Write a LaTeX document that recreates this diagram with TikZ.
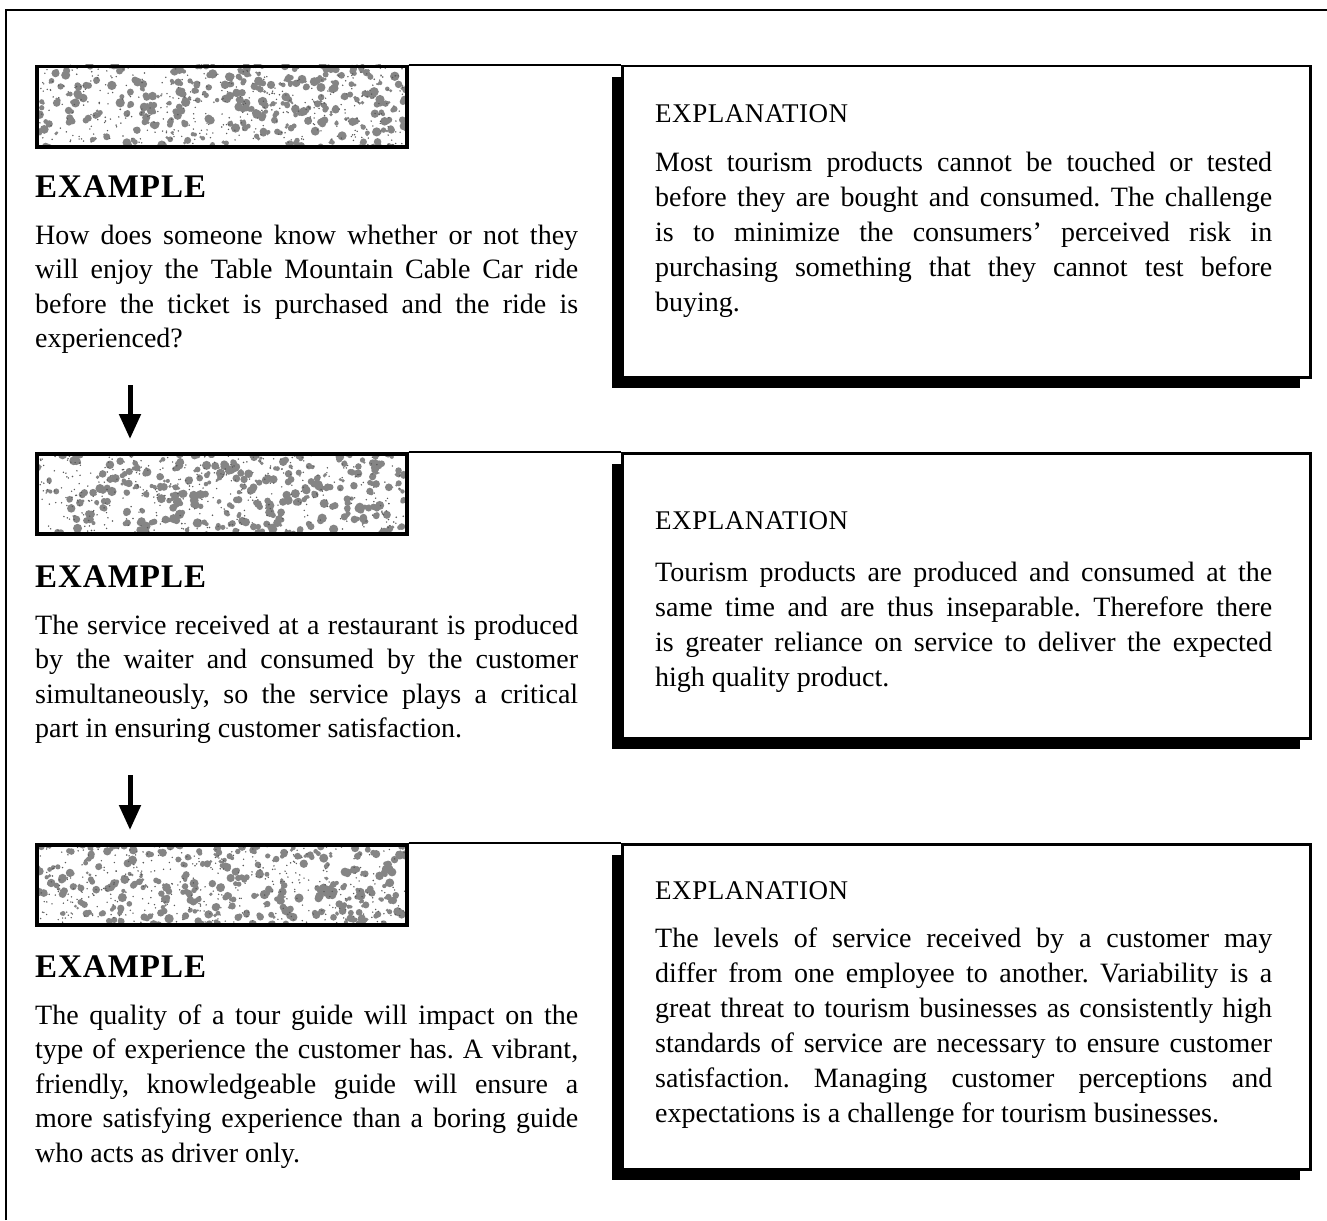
\documentclass[tikz,border=0pt]{standalone}
\usepackage{fontspec}
\setmainfont{Liberation Serif}
\usetikzlibrary{arrows.meta,shadows}
\frenchspacing
\newcommand\jla[1]{\makebox[543pt][s]{#1}}
\newcommand\jlb[1]{\makebox[617pt][s]{#1}}
\tikzset{
  frame/.style={line width=2.5pt},
  texbox/.style={draw, line width=3.5pt, minimum width=370pt, minimum height=80pt, inner sep=0pt, anchor=north west},
  xbox/.style={draw, fill=white, line width=2.5pt, minimum width=688pt, inner sep=0pt, anchor=north west,
    drop shadow={shadow xshift=-10pt, shadow yshift=-11pt, fill=black, opacity=1}},
  joinline/.style={line width=2.5pt},
  arr/.style={line width=5pt, -{Triangle[width=21pt,length=25pt]}},
  exhead/.style={inner sep=0pt, anchor=base west, font={\fontsize{33}{40}\selectfont\bfseries\addfontfeatures{LetterSpace=3}}},
  exbody/.style={inner sep=0pt, anchor=north west, align=left, font={\fontsize{28}{34.5}\selectfont}},
  xhead/.style={inner sep=0pt, anchor=base west, font={\fontsize{27}{34}\selectfont\addfontfeatures{LetterSpace=2}}},
  xbody/.style={inner sep=0pt, anchor=north west, align=left, font={\fontsize{28}{35}\selectfont}},
  blob/.style={fill=black!48},
  speck/.style={fill=black!65}
}
\begin{document}
\begin{tikzpicture}[x=1pt,y=-1pt]
\useasboundingbox (0,0) rectangle (1327,1220);
% outer frame
\coordinate (fbl) at (6,1220);
\coordinate (ftl) at (6,10);
\coordinate (ftr) at (1327,10);
\draw[frame] (fbl) -- (ftl) -- (ftr);
% textures
\pgfmathsetseed{11}
\foreach \T in {65,452,843}{
  \begin{scope}
    \clip (35,\T) rectangle (405,\T+80);
    \foreach \i in {1,...,250}{
      \pgfmathsetmacro\bx{35+372*rnd^0.85}
      \pgfmathsetmacro\by{\T+82*rnd}
      \pgfmathsetmacro\ra{1.5+3.2*rnd}
      \pgfmathsetmacro\dx{-3.5+7*rnd}
      \pgfmathsetmacro\dy{-2.5+5*rnd}
      \pgfmathsetmacro\rb{1+2.8*rnd}
      \fill[blob] (\bx,\by) circle [radius=\ra] (\bx+\dx,\by+\dy) circle [radius=\rb];
    }
    \foreach \i in {1,...,380}{
      \pgfmathsetmacro\bx{35+370*rnd}
      \pgfmathsetmacro\by{\T+80*rnd}
      \fill[speck] (\bx,\by) circle [radius=0.8];
    }
  \end{scope}
}
% ---------- block 1
\node[texbox] (t1) at (35,65) {};
\node[xbox, minimum height=311pt] (b1) at (621,65) {};
\draw[joinline] (t1.north east) -- (b1.north west);
\node[exhead] (h1) at (35,197) {EXAMPLE};
\node[exbody] (e1) at (35,220) {\rule{0pt}{24pt}\jla{How does someone know whether or not they}\\
\jla{will enjoy the Table Mountain Cable Car ride}\\
\jla{before the ticket is purchased and the ride is}\\
experienced?};
\node[xhead] (xh1) at (655,122) {EXPLANATION};
\node[xbody] (x1) at (655,147) {\rule{0pt}{24pt}\jlb{Most tourism products cannot be touched or tested}\\
\jlb{before they are bought and consumed. The challenge}\\
\jlb{is to minimize the consumers’ perceived risk in}\\
\jlb{purchasing something that they cannot test before}\\
buying.};
% ---------- block 2
\node[texbox] (t2) at (35,452) {};
\node[xbox, minimum height=285pt] (b2) at (621,452) {};
\draw[joinline] (t2.north east) -- (b2.north west);
\node[exhead] (h2) at (35,587) {EXAMPLE};
\node[exbody] (e2) at (35,610) {\rule{0pt}{24pt}\jla{The service received at a restaurant is produced}\\
\jla{by the waiter and consumed by the customer}\\
\jla{simultaneously, so the service plays a critical}\\
part in ensuring customer satisfaction.};
\node[xhead] (xh2) at (655,529) {EXPLANATION};
\node[xbody] (x2) at (655,557) {\rule{0pt}{24pt}\jlb{Tourism products are produced and consumed at the}\\
\jlb{same time and are thus inseparable. Therefore there}\\
\jlb{is greater reliance on service to deliver the expected}\\
high quality product.};
% ---------- block 3
\node[texbox] (t3) at (35,843) {};
\node[xbox, minimum height=325pt] (b3) at (621,843) {};
\draw[joinline] (t3.north east) -- (b3.north west);
\node[exhead] (h3) at (35,977) {EXAMPLE};
\node[exbody] (e3) at (35,1000) {\rule{0pt}{24pt}\jla{The quality of a tour guide will impact on the}\\
\jla{type of experience the customer has. A vibrant,}\\
\jla{friendly, knowledgeable guide will ensure a}\\
\jla{more satisfying experience than a boring guide}\\
who acts as driver only.};
\node[xhead] (xh3) at (655,899) {EXPLANATION};
\node[xbody] (x3) at (655,923) {\rule{0pt}{24pt}\jlb{The levels of service received by a customer may}\\
\jlb{differ from one employee to another. Variability is a}\\
\jlb{great threat to tourism businesses as consistently high}\\
\jlb{standards of service are necessary to ensure customer}\\
\jlb{satisfaction. Managing customer perceptions and}\\
expectations is a challenge for tourism businesses.};
% ---------- arrows
\coordinate (a1) at (130,385);
\coordinate (a2) at (130,775);
\draw[arr, shorten >=13pt] (a1) -- (a1 |- t2.north);
\draw[arr, shorten >=13pt] (a2) -- (a2 |- t3.north);
\end{tikzpicture}
\end{document}
